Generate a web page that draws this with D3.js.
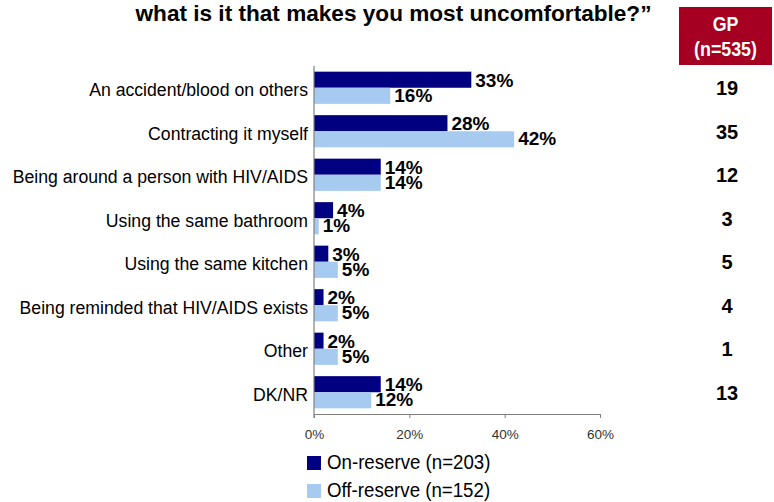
<!DOCTYPE html>
<html><head><meta charset="utf-8">
<script src="https://cdn.jsdelivr.net/npm/d3@7"></script>
<style>body{margin:0;background:#fff}svg{display:block}text{font-family:"Liberation Sans",Arial,sans-serif}</style>
</head><body>
<svg id="c" width="774" height="502"></svg>
<script>
const categories = ["An accident/blood on others","Contracting it myself","Being around a person with HIV/AIDS","Using the same bathroom","Using the same kitchen","Being reminded that HIV/AIDS exists","Other","DK/NR"];
const onReserve = [33,28,14,4,3,2,2,14];
const offReserve = [16,42,14,1,5,5,5,12];
const gpValues = [19,35,12,3,5,4,1,13];
const xTicks = [0,20,40,60];
const seriesNames = ["On-reserve (n=203)","Off-reserve (n=152)"];
const colors = ["#000080","#A6CAF0"];

const svg = d3.select("#c");
const x = d3.scaleLinear().domain([0,60]).range([314,600]);
const y = d3.scaleBand().domain(categories).range([66,414]).paddingInner(0.26).paddingOuter(0.13);
const sub = d3.scaleBand().domain([0,1]).range([0,y.bandwidth()]);

// title
svg.append("text").attr("x",393.5).attr("y",21).attr("text-anchor","middle")
  .attr("font-weight","bold").attr("font-size",22.6).attr("fill","#000")
  .text("what is it that makes you most uncomfortable?\u201D");

// GP box
svg.append("rect").attr("x",679).attr("y",7).attr("width",93).attr("height",58).attr("fill","#A50021");
const gph = svg.append("g").attr("transform","translate(725.5,0) scale(0.89,1)");
gph.append("text").attr("x",0).attr("y",31.5).attr("text-anchor","middle").attr("fill","#fff").attr("font-weight","bold").attr("font-size",20).text("GP");
gph.append("text").attr("x",0).attr("y",56).attr("text-anchor","middle").attr("fill","#fff").attr("font-weight","bold").attr("font-size",20).text("(n=535)");

// bars
const series = [onReserve, offReserve];
const labelDy = [7, 6];
series.forEach((vals,si)=>{
  const g = svg.append("g");
  g.selectAll("rect").data(categories).join("rect")
    .attr("x",x(0)).attr("y",(d)=>y(d)+sub(si))
    .attr("width",(d,i)=>x(vals[i])-x(0)).attr("height",sub.bandwidth())
    .attr("fill",colors[si]);
  g.selectAll("text").data(categories).join("text")
    .attr("x",(d,i)=>x(vals[i])+4).attr("y",(d)=>y(d)+sub(si)+sub.bandwidth()/2+labelDy[si])
    .attr("font-weight","bold").attr("font-size",19).attr("fill","#000")
    .text((d,i)=>vals[i]+"%");
});

// category labels
const cl = svg.append("g").attr("transform","translate(308,0) scale(0.93,1)");
cl.selectAll("text").data(categories).join("text")
  .attr("x",0).attr("y",d=>y(d)+y.bandwidth()/2+8.7)
  .attr("text-anchor","end").attr("font-size",19).attr("fill","#000").text(d=>d);

// GP values
svg.append("g").selectAll("text").data(categories).join("text")
  .attr("x",727).attr("y",d=>y(d)+y.bandwidth()/2+7.5)
  .attr("text-anchor","middle").attr("font-weight","bold").attr("font-size",20).attr("fill","#000")
  .text((d,i)=>gpValues[i]);

// axes
svg.append("line").attr("x1",314).attr("x2",314).attr("y1",66).attr("y2",418).attr("stroke","#808080").attr("stroke-width",1.2);
const xa = svg.append("g").attr("transform","translate(0,414)")
  .call(d3.axisBottom(x).tickValues(xTicks).tickFormat(d=>d+"%").tickSize(4).tickSizeOuter(0));
xa.select(".domain").attr("stroke","#808080");
xa.selectAll(".tick line").attr("stroke","#808080");
xa.selectAll(".tick text").attr("font-size",13.5).attr("fill","#333").attr("y",15).attr("font-family","\"Liberation Sans\",Arial,sans-serif");

// legend
seriesNames.forEach((n,i)=>{
  svg.append("rect").attr("x",307).attr("y",456+i*28).attr("width",14).attr("height",14).attr("fill",colors[i]);
  svg.append("g").attr("transform",`translate(327,${469+i*28}) scale(0.89,1)`)
    .append("text").attr("x",0).attr("y",0).attr("font-size",21).attr("fill","#000").text(n);
});
</script>
</body></html>
